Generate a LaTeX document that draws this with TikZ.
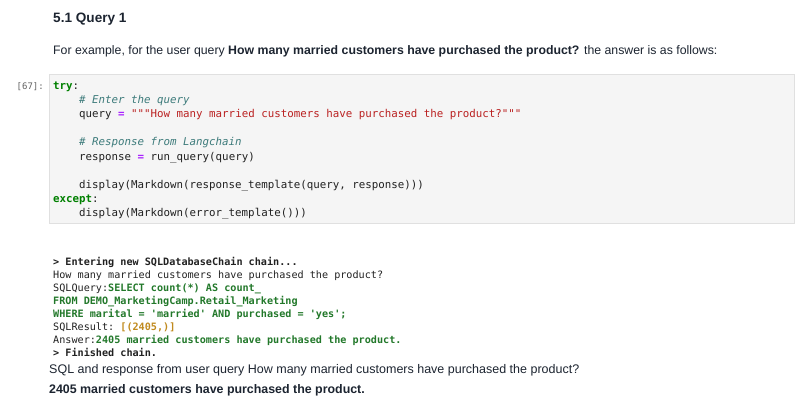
\documentclass[tikz,border=0pt]{standalone}
\usepackage{fontspec}
\setmainfont{Liberation Sans}
\setmonofont{DejaVu Sans Mono}[ItalicFont={DejaVu Sans Mono Oblique},BoldFont={DejaVu Sans Mono Bold}]
\usetikzlibrary{positioning}

\definecolor{textcol}{HTML}{1C2430}
\definecolor{codebg}{HTML}{F5F5F5}
\definecolor{codeborder}{HTML}{E0E0E0}
\definecolor{kwgreen}{HTML}{008000}
\definecolor{cmteal}{HTML}{3D7B7B}
\definecolor{strred}{HTML}{BA2121}
\definecolor{oppurple}{HTML}{AA22FF}
\definecolor{promptgray}{HTML}{616161}
\definecolor{outgreen}{HTML}{22782A}
\definecolor{outyellow}{HTML}{C08A1E}

\newcommand{\kw}[1]{\textcolor{kwgreen}{\bfseries #1}}
\newcommand{\cm}[1]{\textcolor{cmteal}{\itshape #1}}
\newcommand{\st}[1]{\textcolor{strred}{#1}}
\newcommand{\op}[1]{\textcolor{oppurple}{\bfseries #1}}
\newcommand{\og}[1]{\textcolor{outgreen}{\bfseries #1}}
\newcommand{\oy}[1]{\textcolor{outyellow}{\bfseries #1}}
\newcommand{\ind}{\phantom{xxxx}}

\tikzset{
  txt/.style={anchor=base west,inner sep=0pt,text=textcol},
  codeline/.style={anchor=base west,inner sep=0pt,text=black!87,font=\ttfamily\fontsize{10.8}{12}\selectfont},
  outline/.style={anchor=base west,inner sep=0pt,text=black!87,font=\ttfamily\fontsize{10.15}{12}\selectfont}
}

\begin{document}
\begin{tikzpicture}[x=1pt,y=-1pt]
  \useasboundingbox (0,0) rectangle (807,413);

  % heading and intro text
  \node[txt,font=\bfseries\fontsize{13.6}{16}\selectfont] (head) at (53,22) {5.1 Query 1};
  \node[txt,font=\fontsize{12.3}{14}\selectfont] (intro) at (53,54)
    {For example, for the user query \textbf{How many married customers have purchased the product?} the answer is as follows:};

  % code cell
  \fill[codebg] (49,74.5) rectangle (794,223.5);
  \draw[codeborder] (49,74.5) rectangle (794,223.5);
  \node[anchor=base east,inner sep=0pt,text=promptgray,font=\ttfamily\fontsize{9}{11}\selectfont] (prompt) at (44,89) {[67]:};

  \foreach \n/\line in {
      1/{\kw{try}:},
      2/{\ind\cm{\# Enter the query}},
      3/{\ind query \op{=} \st{"""How many married customers have purchased the product?"""}},
      5/{\ind\cm{\# Response from Langchain}},
      6/{\ind response \op{=} run\_query(query)},
      8/{\ind display(Markdown(response\_template(query, response)))},
      9/{\kw{except}:},
      10/{\ind display(Markdown(error\_template()))}}
    \node[codeline] (code\n) at (53,{89+14.2*(\n-1)}) {\line};

  % chain output
  \foreach \line [count=\n] in {
      {\textbf{> Entering new SQLDatabaseChain chain...}},
      {How many married customers have purchased the product?},
      {SQLQuery:\og{SELECT count(*) AS count\_}},
      {\og{FROM DEMO\_MarketingCamp.Retail\_Marketing}},
      {\og{WHERE marital = 'married' AND purchased = 'yes';}},
      {SQLResult: \oy{[(2405,)]}},
      {Answer:\og{2405 married customers have purchased the product.}},
      {\textbf{> Finished chain.}}}
    \node[outline] (out\n) at (53,{265+13*(\n-1)}) {\line};

  % markdown result
  \node[txt,font=\fontsize{12.5}{14}\selectfont] (sqlresp) at (49,373)
    {SQL and response from user query How many married customers have purchased the product?};
  \node[txt,font=\bfseries\fontsize{12.4}{14}\selectfont] (answer) at (49,393.3)
    {2405 married customers have purchased the product.};
\end{tikzpicture}
\end{document}
